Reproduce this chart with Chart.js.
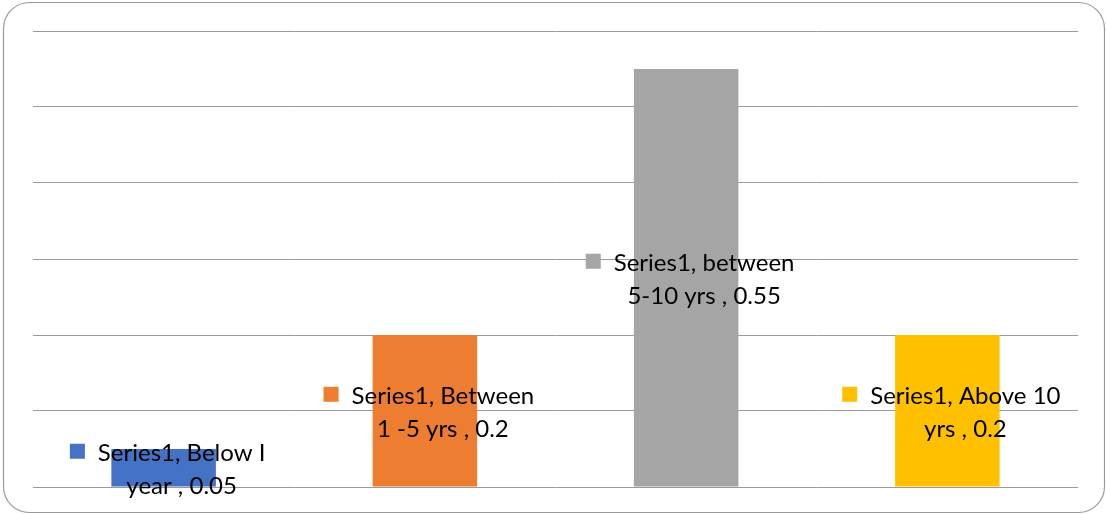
<!DOCTYPE html>
<html>
<head>
<meta charset="utf-8">
<script src="https://cdn.jsdelivr.net/npm/chart.js@4"></script>
<style>
  html, body { margin: 0; padding: 0; background: #fff; }
  #wrap { width: 1106px; height: 514px; position: relative; }
</style>
</head>
<body>
<div id="wrap"><canvas id="expChart" width="1106" height="514"></canvas></div>
<script>
const seriesName = "Series1";
const categories = ["Below I year", "Between 1 -5 yrs", "between 5-10 yrs", "Above 10 yrs"];
const values = [0.05, 0.2, 0.55, 0.2];
const barColors = ["#4472C4", "#ED7D31", "#A5A5A5", "#FFC000"];
// how Excel wrapped each data label
const labelLine1 = ["Series1, Below I", "Series1, Between", "Series1, between", "Series1, Above 10"];
const labelLine2 = ["year , 0.05", "1 -5 yrs , 0.2", "5-10 yrs , 0.55", "yrs , 0.2"];
const yTicks = [0, 0.1, 0.2, 0.3, 0.4, 0.5, 0.6];

// rounded frame around the whole chart
const framePlugin = {
  id: "frame",
  beforeDraw(chart) {
    const ctx = chart.ctx;
    ctx.save();
    ctx.strokeStyle = "#9a9a9a";
    ctx.lineWidth = 1.2;
    ctx.beginPath();
    ctx.roundRect(3.5, 2.5, 1101, 510, 26);
    ctx.stroke();
    ctx.restore();
  },
};

// callout style labels: legend key + two text lines, centred on the bar
const calloutPlugin = {
  id: "callouts",
  afterDatasetsDraw(chart) {
    const ctx = chart.ctx;
    const meta = chart.getDatasetMeta(0);
    ctx.save();
    ctx.font = "24px Lato";
    ctx.textAlign = "center";
    ctx.textBaseline = "alphabetic";
    meta.data.forEach((bar, i) => {
      const mid = (bar.y + bar.base) / 2;
      const cx = bar.x + 18;
      const w1 = ctx.measureText(labelLine1[i]).width;
      ctx.fillStyle = barColors[i];
      ctx.fillRect(cx - w1 / 2 - 28, mid - 24, 15, 15);
      ctx.fillStyle = "#000";
      ctx.fillText(labelLine1[i], cx, mid - 7);
      ctx.fillText(labelLine2[i], cx, mid + 26);
    });
    ctx.restore();
  },
};

const ctx = document.getElementById("expChart").getContext("2d");
const expChart = new Chart(ctx, {
  type: "bar",
  data: {
    labels: categories,
    datasets: [
      {
        label: seriesName,
        data: values,
        backgroundColor: barColors,
        borderWidth: 0,
        categoryPercentage: 1,
        barPercentage: 0.4,
      },
    ],
  },
  options: {
    responsive: false,
    animation: false,
    layout: {
      padding: { left: 33, right: 28, top: 31, bottom: 27 },
    },
    plugins: {
      legend: { display: false },
      tooltip: { enabled: false },
    },
    scales: {
      x: {
        display: false,
      },
      y: {
        min: 0,
        max: 0.6,
        afterBuildTicks: (scale) => {
          scale.ticks = yTicks.map((v) => ({ value: v }));
        },
        ticks: { display: false },
        grid: { color: "#9a9a9a", lineWidth: 1, drawTicks: false },
        border: { display: false },
      },
    },
  },
  plugins: [framePlugin, calloutPlugin],
});
</script>
</body>
</html>
